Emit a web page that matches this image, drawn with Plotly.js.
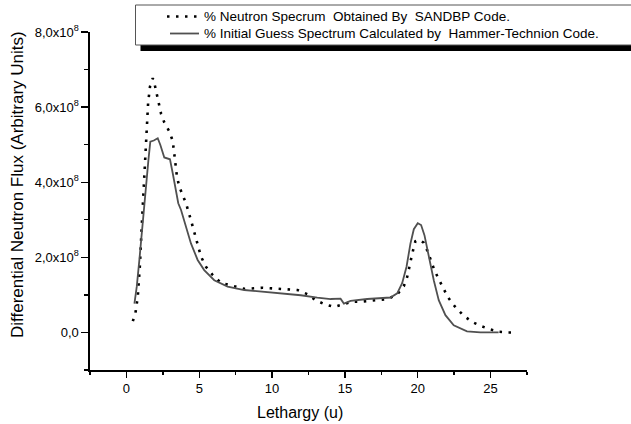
<!DOCTYPE html>
<html>
<head>
<meta charset="utf-8">
<script src="https://cdn.plot.ly/plotly-3.0.1.min.js"></script>
<style>html,body{margin:0;padding:0;background:#fff;}#chart{width:631px;height:424px;}</style>
</head>
<body>
<div id="chart"></div>
<script>
// SANDBP spectrum (dotted)
var sandbpX = [0.44,0.62,0.78,0.92,1.05,1.19,1.30,1.40,1.49,1.62,1.81,1.97,2.10,2.38,2.60,2.95,3.18,3.29,3.47,3.63,3.87,4.09,4.43,4.78,5.12,5.46,5.92,6.49,7.40,8.09,9.35,10.60,11.75,12.42,12.99,13.61,14.25,14.89,15.51,16.12,16.76,17.38,17.97,18.60,19.04,19.27,19.38,19.55,19.68,19.84,20.10,20.41,20.69,20.92,21.14,21.44,21.74,22.08,22.53,23.11,23.73,24.34,24.98,25.60,26.20,26.80];
var sandbpY = [0.30e8,0.52e8,0.95e8,1.75e8,2.82e8,3.88e8,4.77e8,5.57e8,6.11e8,6.55e8,6.77e8,6.55e8,6.30e8,5.82e8,5.59e8,5.35e8,5.10e8,4.68e8,4.15e8,3.88e8,3.66e8,3.44e8,2.99e8,2.46e8,2.02e8,1.75e8,1.53e8,1.32e8,1.22e8,1.16e8,1.19e8,1.16e8,1.13e8,1.02e8,0.86e8,0.75e8,0.68e8,0.75e8,0.82e8,0.82e8,0.84e8,0.86e8,0.89e8,1.02e8,1.23e8,1.47e8,1.71e8,1.97e8,2.19e8,2.43e8,2.47e8,2.39e8,2.15e8,1.91e8,1.66e8,1.42e8,1.19e8,0.93e8,0.70e8,0.46e8,0.28e8,0.17e8,0.08e8,0.02e8,0.0,0.0];

// Hammer-Technion initial guess spectrum (solid)
var hammerX = [0.55,0.71,0.89,1.12,1.35,1.51,1.64,1.88,2.15,2.33,2.60,2.84,2.99,3.18,3.40,3.56,3.75,4.09,4.43,4.89,5.34,6.03,6.95,8.09,9.69,11.97,13.10,14.02,14.70,14.93,15.39,16.53,18.13,18.59,18.93,19.23,19.50,19.73,20.00,20.23,20.46,20.75,21.10,21.44,21.90,22.47,23.38,24.30,25.55];
var hammerY = [0.77e8,1.22e8,1.93e8,2.99e8,3.88e8,4.59e8,5.08e8,5.11e8,5.17e8,4.99e8,4.66e8,4.64e8,4.61e8,4.24e8,3.71e8,3.44e8,3.26e8,2.82e8,2.37e8,1.93e8,1.66e8,1.39e8,1.22e8,1.13e8,1.08e8,0.99e8,0.93e8,0.89e8,0.90e8,0.77e8,0.84e8,0.89e8,0.93e8,1.04e8,1.31e8,1.75e8,2.37e8,2.75e8,2.91e8,2.86e8,2.59e8,2.02e8,1.39e8,0.86e8,0.46e8,0.19e8,0.03e8,0.0,0.0];

var yTickVals = [0, 2e8, 4e8, 6e8, 8e8];
var yTickText = ['0,0', '2,0x10<sup>8</sup>', '4,0x10<sup>8</sup>', '6,0x10<sup>8</sup>', '8,0x10<sup>8</sup>'];
var xTickVals = [0, 5, 10, 15, 20, 25];
var xTickText = ['0', '5', '10', '15', '20', '25'];

var xTitle = 'Lethargy (u)';
var yTitle = 'Differential Neutron Flux (Arbitrary Units)';
var legendNames = ['% Neutron Specrum  Obtained By  SANDBP Code.', '% Initial Guess Spectrum Calculated by  Hammer-Technion Code.'];

var FONT = 'Liberation Sans, Arial, sans-serif';
var DOT = '2.5px,6.5px';

var traces = [
  {x: sandbpX, y: sandbpY, mode: 'lines', name: legendNames[0],
   line: {color: '#000', width: 2.6, dash: DOT}},
  {x: hammerX, y: hammerY, mode: 'lines', name: legendNames[1],
   line: {color: '#505050', width: 1.8}}
];

function px2x(p){ return (p - 90) / 437; }
function px2y(p){ return (370 - p) / 338; }

var layout = {
  width: 631, height: 424,
  margin: {l: 90, r: 104, t: 32, b: 54},
  paper_bgcolor: '#fff', plot_bgcolor: '#fff',
  showlegend: false,
  font: {family: FONT, color: '#000', size: 13},
  xaxis: {
    range: [-2.5, 27.5], tickvals: xTickVals, ticktext: xTickText,
    showgrid: false, zeroline: false, showline: true, linecolor: '#000', linewidth: 1.6,
    ticks: 'outside', ticklen: 6, tickwidth: 1.4, tickcolor: '#000',
    minor: {tickvals: [-2.5, 2.5, 7.5, 12.5, 17.5, 22.5, 27.5], ticks: 'outside', ticklen: 3, tickwidth: 1.4, tickcolor: '#000'},
    tickfont: {family: FONT, size: 13, color: '#000'}
  },
  yaxis: {
    range: [-1e8, 8e8], tickvals: yTickVals, ticktext: yTickText,
    showgrid: false, zeroline: false, showline: true, linecolor: '#000', linewidth: 1.6,
    ticks: 'outside', ticklen: 7, tickwidth: 1.4, tickcolor: '#000',
    minor: {tickvals: [-1e8, 1e8, 3e8, 5e8, 7e8], ticks: 'outside', ticklen: 4, tickwidth: 1.4, tickcolor: '#000'},
    tickfont: {family: FONT, size: 13, color: '#000'}
  },
  shapes: [
    {type: 'rect', xref: 'paper', yref: 'paper', x0: px2x(140.5), x1: px2x(660), y0: px2y(51), y1: px2y(10),
     fillcolor: '#000', line: {width: 0}, layer: 'above'},
    {type: 'rect', xref: 'paper', yref: 'paper', x0: px2x(135.5), x1: px2x(650), y0: px2y(45), y1: px2y(5),
     fillcolor: '#fff', line: {color: '#555', width: 1}, layer: 'above'},
    {type: 'line', xref: 'paper', yref: 'paper', x0: px2x(167), x1: px2x(202), y0: px2y(16.5), y1: px2y(16.5),
     line: {color: '#000', width: 2.6, dash: DOT}, layer: 'above'},
    {type: 'line', xref: 'paper', yref: 'paper', x0: px2x(170), x1: px2x(199), y0: px2y(33.5), y1: px2y(33.5),
     line: {color: '#505050', width: 1.8}, layer: 'above'}
  ],
  annotations: [
    {xref: 'paper', yref: 'paper', x: px2x(202), y: px2y(16.5), xanchor: 'left', yanchor: 'middle',
     text: legendNames[0], showarrow: false, font: {family: FONT, size: 13.5, color: '#000'}},
    {xref: 'paper', yref: 'paper', x: px2x(202), y: px2y(33.5), xanchor: 'left', yanchor: 'middle',
     text: legendNames[1], showarrow: false, font: {family: FONT, size: 13.5, color: '#000'}},
    {xref: 'paper', yref: 'paper', x: px2x(300), y: px2y(412), xanchor: 'center', yanchor: 'middle',
     text: xTitle, showarrow: false, font: {family: FONT, size: 16, color: '#000'}},
    {xref: 'paper', yref: 'paper', x: px2x(17), y: px2y(185), xanchor: 'center', yanchor: 'middle', textangle: -90,
     text: yTitle, showarrow: false, font: {family: FONT, size: 17, color: '#000'}}
  ]
};

Plotly.newPlot('chart', traces, layout, {displayModeBar: false, staticPlot: true});
</script>
</body>
</html>
